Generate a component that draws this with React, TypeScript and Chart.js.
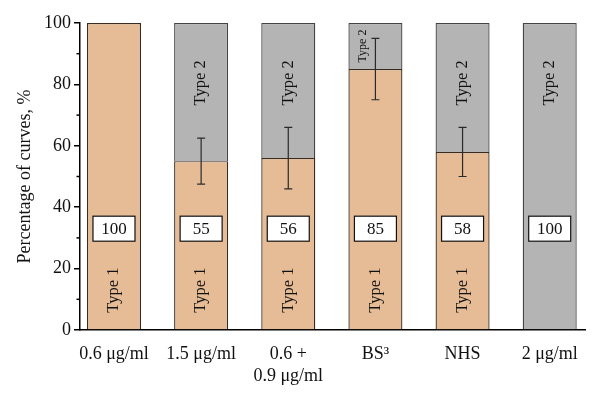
import React, { useEffect, useRef } from "react";
import { Chart, registerables } from "chart.js";

Chart.register(...registerables);

const categories: (string | string[])[] = ["0.6 μg/ml", "1.5 μg/ml", ["0.6 +", "0.9 μg/ml"], "BS³", "NHS", "2 μg/ml"];
const type1Values: (number | null)[] = [100, 55, 56, 85, 58, null];
const type2Values: (number | null)[] = [null, 45, 44, 15, 42, 100];
const errorValues: (number | null)[] = [null, 7.5, 10, 10, 8, null];
const boxLabels: string[] = ["100", "55", "56", "85", "58", "100"];
const yTicks: number[] = [0, 20, 40, 60, 80, 100];
const yMinorTicks: number[] = [10, 30, 50, 70, 90];

const SERIF = "'Liberation Serif', 'Times New Roman', serif";

const overlayPlugin = {
  id: "overlay",
  afterDatasetsDraw(chart: any) {
    const { ctx, scales } = chart;
    const xs = scales.x;
    const ys = scales.y;
    ctx.save();
    ctx.strokeStyle = "#000";
    ctx.lineWidth = 1.5;
    const left = chart.chartArea.left;
    yMinorTicks.forEach((v) => {
      const y = ys.getPixelForValue(v);
      ctx.beginPath();
      ctx.moveTo(left - 3.5, y);
      ctx.lineTo(left, y);
      ctx.stroke();
    });

    categories.forEach((_, i) => {
      const x = xs.getPixelForValue(i);
      const t1 = type1Values[i];
      const t2 = type2Values[i];
      const err = errorValues[i];

      if (t1 != null && t1 > 0) {
        ctx.save();
        ctx.translate(x, ys.getPixelForValue(13));
        ctx.rotate(-Math.PI / 2);
        ctx.font = `16.5px ${SERIF}`;
        ctx.fillStyle = "#111";
        ctx.textAlign = "center";
        ctx.textBaseline = "middle";
        ctx.fillText("Type 1", 0, 0);
        ctx.restore();
      }
      if (t2 != null && t2 > 0) {
        const base = t1 ?? 0;
        const small = t2 < 20;
        const v = small ? base + t2 / 2 : 80.5;
        ctx.save();
        ctx.translate(small ? x - 13 : x, ys.getPixelForValue(v));
        ctx.rotate(-Math.PI / 2);
        ctx.font = `${small ? 12 : 16.5}px ${SERIF}`;
        ctx.fillStyle = "#111";
        ctx.textAlign = "center";
        ctx.textBaseline = "middle";
        ctx.fillText("Type 2", 0, 0);
        ctx.restore();
      }
      if (err != null && t1 != null) {
        const yTop = ys.getPixelForValue(t1 + err);
        const yBot = ys.getPixelForValue(t1 - err);
        ctx.strokeStyle = "#2a2a2a";
        ctx.lineWidth = 1.2;
        ctx.beginPath();
        ctx.moveTo(x, yTop);
        ctx.lineTo(x, yBot);
        ctx.moveTo(x - 4, yTop);
        ctx.lineTo(x + 4, yTop);
        ctx.moveTo(x - 4, yBot);
        ctx.lineTo(x + 4, yBot);
        ctx.stroke();
      }
      const by = ys.getPixelForValue(33);
      const bw = 42;
      const bh = 25;
      ctx.fillStyle = "#fff";
      ctx.fillRect(x - bw / 2, by - bh / 2, bw, bh);
      ctx.strokeStyle = "#111";
      ctx.lineWidth = 1.2;
      ctx.strokeRect(x - bw / 2, by - bh / 2, bw, bh);
      ctx.font = `17px ${SERIF}`;
      ctx.fillStyle = "#111";
      ctx.textAlign = "center";
      ctx.textBaseline = "middle";
      ctx.fillText(boxLabels[i], x, by + 1);
    });
    ctx.restore();
  },
};

export default function App() {
  const canvasRef = useRef<HTMLCanvasElement>(null);

  useEffect(() => {
    document.body.style.margin = "0";
    const canvas = canvasRef.current;
    if (!canvas) return;
    const chart = new Chart(canvas, {
      type: "bar",
      data: {
        datasets: [
          {
            label: "Type 1",
            data: type1Values.map((v, i) => ({ x: i, y: v })) as any,
            backgroundColor: "#E6BC96",
            borderColor: "#3b2a1e",
            borderWidth: { left: 1.3, right: 1.3, top: 1.2, bottom: 0 },
            borderSkipped: false,
            categoryPercentage: 1,
            barPercentage: 0.62,
          },
          {
            label: "Type 2",
            data: type2Values.map((v, i) => ({ x: i, y: v })) as any,
            backgroundColor: "#B4B4B4",
            borderColor: "#444",
            borderWidth: { left: 1.3, right: 1.3, top: 1.2, bottom: 0 },
            borderSkipped: false,
            categoryPercentage: 1,
            barPercentage: 0.62,
          },
        ],
      },
      options: {
        animation: false,
        responsive: false,
        maintainAspectRatio: false,
        layout: { padding: { top: 23, right: 16, left: 0, bottom: 0 } },
        plugins: {
          legend: { display: false },
          tooltip: { enabled: false },
          title: { display: false },
        },
        scales: {
          x: {
            type: "linear",
            stacked: true,
            offset: false,
            min: -0.39,
            max: 5.405,
            afterBuildTicks: (s: any) => {
              s.ticks = categories.map((_, i) => ({ value: i }));
            },
            afterFit: (s: any) => {
              s.height = 71;
            },
            grid: { display: false, drawTicks: false, offset: false },
            border: { display: true, color: "#000", width: 1.5 },
            ticks: {
              autoSkip: false,
              maxRotation: 0,
              padding: 13,
              color: "#111",
              font: { family: SERIF, size: 18, lineHeight: 1.25 },
              callback: (value: any) => categories[Math.round(Number(value))] as any,
            },
          },
          y: {
            stacked: true,
            min: 0,
            max: 100,
            afterBuildTicks: (s: any) => {
              s.ticks = yTicks.map((v) => ({ value: v }));
            },
            afterFit: (s: any) => {
              s.width = 80;
            },
            grid: {
              drawOnChartArea: false,
              drawTicks: true,
              tickLength: 6,
              color: "#000",
              lineWidth: 1.5,
            },
            border: { display: true, color: "#000", width: 1.5 },
            ticks: {
              padding: 3,
              color: "#111",
              font: { family: SERIF, size: 18 },
            },
            title: {
              display: true,
              text: "Percentage of curves, %",
              color: "#111",
              font: { family: SERIF, size: 18 },
              padding: { top: 14, bottom: 0 },
            },
          },
        },
      },
      plugins: [overlayPlugin],
    });
    return () => chart.destroy();
  }, []);

  return (
    <div style={{ width: 601, height: 401 }}>
      <canvas ref={canvasRef} width={601} height={401} />
    </div>
  );
}
